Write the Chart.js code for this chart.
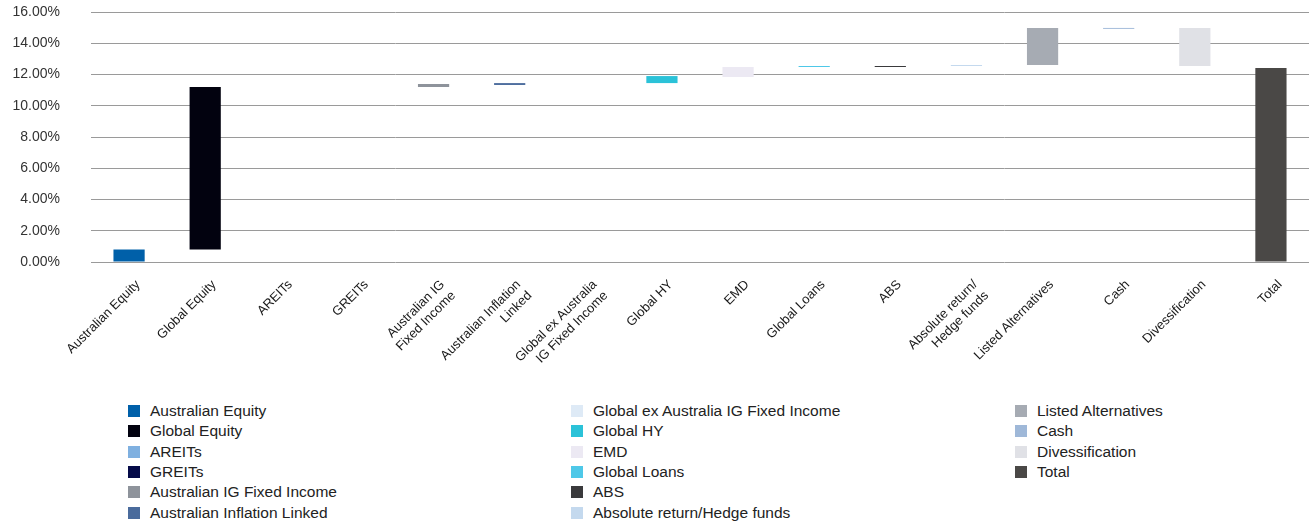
<!DOCTYPE html>
<html>
<head>
<meta charset="utf-8">
<script src="https://cdn.jsdelivr.net/npm/chart.js@4.4.1/dist/chart.umd.min.js"></script>
<style>
  html, body { margin: 0; padding: 0; background: #ffffff; }
  body { width: 1309px; height: 522px; position: relative; overflow: hidden; font-family: "Liberation Sans", Arial, sans-serif; }
  #wrap { position: absolute; left: 0; top: 0; width: 1309px; height: 395px; }
  #legend { position: absolute; left: 128px; top: 401px; display: grid; grid-auto-flow: column;
    grid-template-rows: repeat(6, 20.3px); grid-template-columns: 443px 444px 280px; }
  .item { display: flex; align-items: center; font-size: 15.5px; color: #222; white-space: nowrap; }
  .box { width: 12px; height: 12px; margin-right: 10px; flex: none; }
</style>
</head>
<body>
<div id="wrap"><canvas id="c"></canvas></div>
<div id="legend"></div>
<script>
const categories = ["Australian Equity", "Global Equity", "AREITs", "GREITs", "Australian IG Fixed Income",
  "Australian Inflation Linked", "Global ex Australia IG Fixed Income", "Global HY", "EMD", "Global Loans",
  "ABS", "Absolute return/Hedge funds", "Listed Alternatives", "Cash", "Divessification", "Total"];
const axisLabels = [["Australian Equity"], ["Global Equity"], ["AREITs"], ["GREITs"], ["Australian IG", "Fixed Income"],
  ["Australian Inflation", "Linked"], ["Global ex Australia", "IG Fixed Income"], ["Global HY"], ["EMD"], ["Global Loans"],
  ["ABS"], ["Absolute return/", "Hedge funds"], ["Listed Alternatives"], ["Cash"], ["Divessification"], ["Total"]];
const barStart = [0, 0.8, null, null, 11.2, 11.33, null, 11.45, 11.84, 12.48, 12.48, 12.55, 12.61, 14.92, 12.545, 0];
const barEnd   = [0.8, 11.2, null, null, 11.39, 11.45, null, 11.9, 12.48, 12.545, 12.545, 12.61, 14.98, 14.98, 14.98, 12.42];
const colors = ["#0060a9", "#02020f", "#7fb0e0", "#050a48", "#8e939b", "#4a6b9c", "#deeaf6", "#2bc2d8",
  "#ece9f3", "#4ec8e8", "#3a3a3c", "#c4d9ee", "#a6abb3", "#9fb8d8", "#e0e1e6", "#4a4846"];
const yTicks = [0, 2, 4, 6, 8, 10, 12, 14, 16];

const data = categories.map((_, i) => barStart[i] == null ? null : [barStart[i], barEnd[i]]);

new Chart(document.getElementById('c'), {
  type: 'bar',
  data: {
    labels: axisLabels,
    datasets: [{ data: data, backgroundColor: colors, borderWidth: 0, barPercentage: 0.41, categoryPercentage: 1.0 }]
  },
  options: {
    responsive: true, maintainAspectRatio: false, animation: false,
    layout: { padding: { top: 12, right: 0, bottom: 0, left: 0 } },
    plugins: { legend: { display: false }, tooltip: { enabled: false } },
    scales: {
      x: {
        grid: { display: false, drawTicks: false },
        border: { display: false },
        ticks: { autoSkip: false, minRotation: 45, maxRotation: 45, padding: 15, labelOffset: 9, color: '#1a1a1a',
          font: { family: 'Liberation Sans', size: 13 } },
        afterFit: (s) => { s.height = 133; }
      },
      y: {
        min: 0, max: 16,
        afterBuildTicks: (s) => { s.ticks = yTicks.map(v => ({ value: v })); },
        grid: { color: '#9a9a9a', lineWidth: 1, drawTicks: false },
        border: { display: false },
        ticks: { padding: 31, color: '#333333', font: { family: 'Liberation Sans', size: 14 },
          callback: (v) => Number(v).toFixed(2) + '%' },
        afterFit: (s) => { s.width = 91; s.paddingTop = 0; s.paddingBottom = 0; }
      }
    }
  }
});

const leg = document.getElementById('legend');
categories.forEach((name, i) => {
  const d = document.createElement('div');
  d.className = 'item';
  const b = document.createElement('span');
  b.className = 'box';
  b.style.background = colors[i];
  const t = document.createElement('span');
  t.textContent = name;
  d.appendChild(b); d.appendChild(t);
  leg.appendChild(d);
});
</script>
</body>
</html>
